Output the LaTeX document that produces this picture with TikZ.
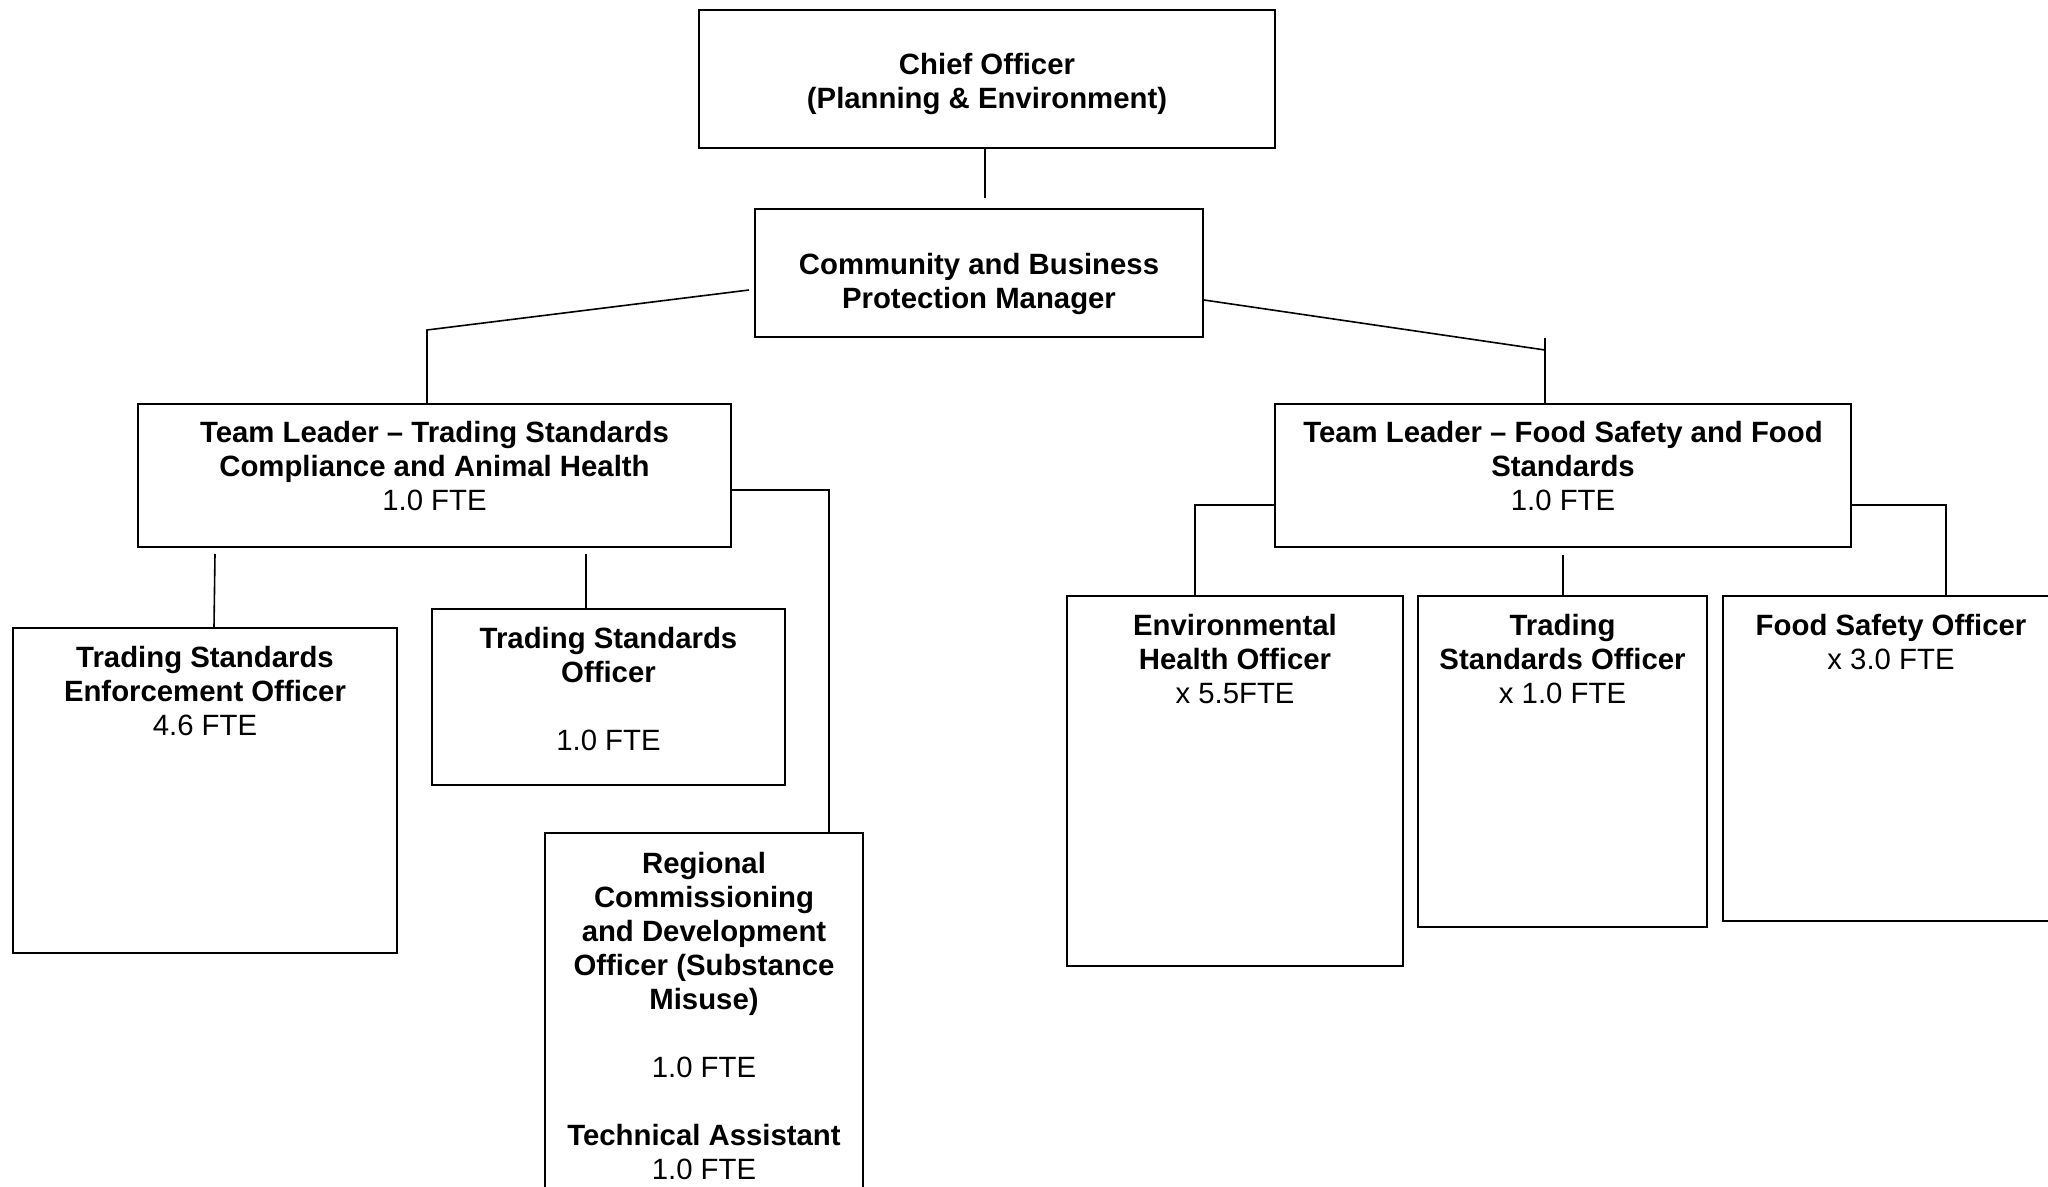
\documentclass[tikz,border=0pt]{standalone}
\usepackage{fontspec}
\setmainfont{Liberation Sans}
\usetikzlibrary{calc}
\tikzset{every picture/.style={line width=0.75pt}}

\begin{document}
\begin{tikzpicture}[x=0.75pt,y=0.75pt,yscale=-1,xscale=1,
	post/.style={draw, line width=1.5pt, rectangle, inner sep=0pt},
	txt/.style={anchor=north, align=center, inner sep=0pt, font=\fontsize{22}{25.5}\selectfont},
	link/.style={line width=1.2pt}]
	\useasboundingbox (0,0) rectangle (2048,1187);
	\clip (0,0) rectangle (2048,1187);

	% posts
	\node[post, minimum width=432pt, minimum height=103.5pt] (chief) at (987,79) {};
	\node[post, minimum width=336pt, minimum height=96pt] (mgr) at (979,273) {};
	\node[post, minimum width=444.75pt, minimum height=107.25pt] (tlts) at (434.5,475.5) {};
	\node[post, minimum width=432pt, minimum height=107.25pt] (tlfs) at (1563,475.5) {};
	\node[post, minimum width=288pt, minimum height=243.75pt] (tseo) at (205,790.5) {};
	\node[post, minimum width=264.75pt, minimum height=132pt] (tso) at (608.5,697) {};
	\node[post, minimum width=238.5pt, minimum height=282.75pt] (reg) at (704,1021.5) {};
	\node[post, minimum width=252pt, minimum height=277.5pt] (eho) at (1235,781) {};
	\node[post, minimum width=216.75pt, minimum height=248.25pt] (tsob) at (1562.5,761.5) {};
	\node[post, minimum width=252pt, minimum height=243.75pt] (fso) at (1891,758.5) {};

	% texts
	\node[txt] (chieft) at ($(chief.north)+(0,44)$) {\textbf{Chief Officer}\\\textbf{(Planning \& Environment)}};
	\node[txt] (mgrt) at ($(mgr.north)+(0,44.5)$) {\textbf{Community and Business}\\\textbf{Protection Manager}};
	\node[txt] (tltst) at ($(tlts.north)+(0,17.5)$) {\textbf{Team Leader – Trading Standards}\\\textbf{Compliance and Animal Health}\\1.0 FTE};
	\node[txt] (tlfst) at ($(tlfs.north)+(0,17.5)$) {\textbf{Team Leader – Food Safety and Food}\\\textbf{Standards}\\1.0 FTE};
	\node[txt] (tseot) at ($(tseo.north)+(0,18.5)$) {\textbf{Trading Standards}\\\textbf{Enforcement Officer}\\4.6 FTE};
	\node[txt] (tsot) at ($(tso.north)+(0,19)$) {\textbf{Trading Standards}\\\textbf{Officer}\\[25.5pt]1.0 FTE};
	\node[txt] (regt) at ($(reg.north)+(0,19.5)$) {\textbf{Regional}\\\textbf{Commissioning}\\\textbf{and Development}\\\textbf{Officer (Substance}\\\textbf{Misuse)}\\[25.5pt]1.0 FTE\\[25.5pt]\textbf{Technical Assistant}\\1.0 FTE};
	\node[txt] (ehot) at ($(eho.north)+(0,19)$) {\textbf{Environmental}\\\textbf{Health Officer}\\x 5.5FTE};
	\node[txt] (tsobt) at ($(tsob.north)+(0,19)$) {\textbf{Trading}\\\textbf{Standards Officer}\\x 1.0 FTE};
	\node[txt] (fsot) at ($(fso.north)+(0,19)$) {\textbf{Food Safety Officer}\\x 3.0 FTE};

	% links
	\coordinate (chiefdrop) at (985,198);
	\coordinate (kneeL) at (427,330);
	\coordinate (kneeR) at (1545,350);
	\coordinate (tseodrop) at (215,554);
	\coordinate (tsodrop) at (586,554);
	\coordinate (tsobdrop) at (1563,555);

	\draw[link] (chiefdrop |- chief.south) -- (chiefdrop);
	\draw[link] ($(mgr.west)+(-5,17)$) -- (kneeL) -- (kneeL |- tlts.north);
	\draw[link] ($(mgr.east)+(0,27)$) -- (kneeR);
	\draw[link] ($(kneeR)+(0,-12)$) -- (kneeR |- tlfs.north);
	\draw[link] (tseodrop) -- ($(tseodrop |- tseo.north)+(-1,0)$);
	\draw[link] (tsodrop) -- (tsodrop |- tso.north);
	\draw[link] ($(tlts.east)+(0,14.5)$) -| ($(reg.north east)+(-35,0)$);
	\draw[link] ($(tlfs.west)+(0,29.5)$) -| ($(eho.north)+(-40,0)$);
	\draw[link] (tsobdrop) -- (tsobdrop |- tsob.north);
	\draw[link] ($(tlfs.east)+(0,29.5)$) -| ($(fso.north)+(55,0)$);
\end{tikzpicture}
\end{document}
